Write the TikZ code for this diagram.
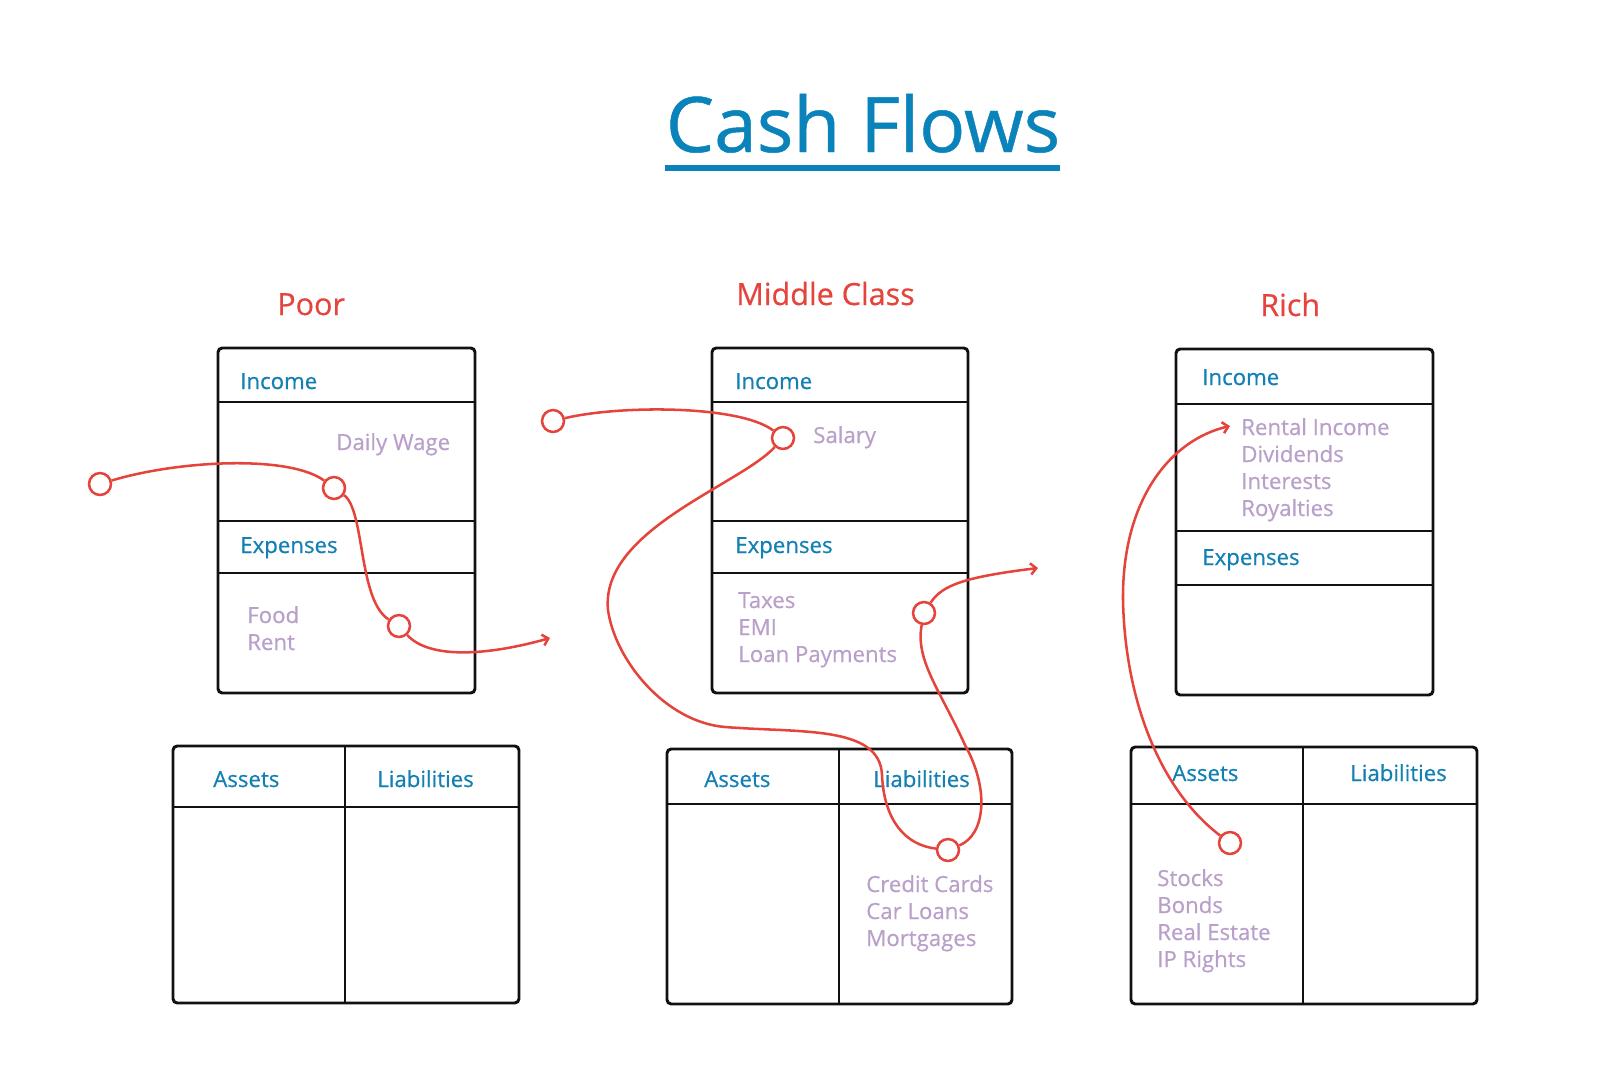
\documentclass[tikz,border=0pt]{standalone}
\usepackage{fontspec}
\setmainfont{Open Sans}[UprightFeatures={FakeBold=0.6}]
\usetikzlibrary{arrows.meta}
\definecolor{ink}{HTML}{111111}
\definecolor{titleblue}{HTML}{0A82BA}
\definecolor{headblue}{HTML}{1380B3}
\definecolor{flowred}{HTML}{E5443C}
\definecolor{lilac}{HTML}{B9A0CB}
\tikzset{
  >={Straight Barb[length=4pt, width=8pt]},
  %
  sheet/.style={draw=ink, line width=2.1pt, rounded corners=3pt},
  rule/.style={draw=ink, line width=2.1pt},
  %
  sect/.style={font=\fontsize{15.8}{19}\selectfont, text=headblue,
               anchor=base west, inner sep=0pt},
  entry/.style={sect, text=lilac},
  klass/.style={font=\fontsize{21.7}{26}\selectfont, text=flowred,
                anchor=base west, inner sep=0pt},
  %
  hop/.style={circle, draw=flowred, line width=1.8pt, fill=white,
              minimum size=15.6pt, inner sep=0pt},
  flow/.style={draw=flowred, line width=1.8pt},
  flowto/.style={flow, ->},
}

\newcommand{\statement}[7]{% left, right, top, income rule, expenses top, expenses rule, bottom
  \draw[sheet] (#1,#3) rectangle (#2,#7);
  \draw[rule] (#1,#4) -- (#2,#4);
  \draw[rule] (#1,#5) -- (#2,#5);
  \draw[rule] (#1,#6) -- (#2,#6);
}
\newcommand{\balance}[6]{% left, divider, right, top, header rule, bottom
  \draw[sheet] (#1,#4) rectangle (#3,#6);
  \draw[rule] (#2,#4) -- (#2,#6);
  \draw[rule] (#1,#5) -- (#3,#5);
}
\newcommand{\entries}[4]{% name, x, first baseline, items
  \foreach \t [count=\i] in {#4}
    \node[entry] (#1-\i) at (#2,{#3+27*(\i-1)}) {\t};
}

\begin{document}
\begin{tikzpicture}[x=0.025cm, y=-0.025cm]
  \useasboundingbox (0,0) rectangle (1600,1073);

  % --- title ---------------------------------------------------------------
  \node[font=\fontsize{54.5}{60}\selectfont, text=titleblue, anchor=base,
        inner sep=0pt] (title) at (863,152) {Cash Flows};
  \draw[titleblue, line width=3.6pt] (665,168) -- (1060,168);

  % --- poor ----------------------------------------------------------------
  \node[klass] (poor) at (277,315) {Poor};
  \statement{218}{475}{348}{402}{521}{573}{693}
  \node[sect] (poor-inc) at (240,389) {Income};
  \node[sect] (poor-exp) at (240,553) {Expenses};
  \entries{poor-wage}{336}{450}{Daily Wage}
  \entries{poor-cost}{247}{623}{Food,Rent}
  \balance{173}{345}{519}{746}{807}{1003}
  \node[sect] (poor-ast) at (213,787) {Assets};
  \node[sect] (poor-lia) at (377,787) {Liabilities};

  % --- middle class --------------------------------------------------------
  \node[klass] (middle) at (736,305) {Middle Class};
  \statement{712}{968}{348}{402}{521}{573}{693}
  \node[sect] (mid-inc) at (735,389) {Income};
  \node[sect] (mid-exp) at (735,553) {Expenses};
  \entries{mid-pay}{813}{443}{Salary}
  \entries{mid-cost}{738}{608}{Taxes,EMI,Loan Payments}
  \balance{667}{839}{1012}{749}{804}{1004}
  \node[sect] (mid-ast) at (704,787) {Assets};
  \node[sect] (mid-lia) at (873,787) {Liabilities};
  \entries{mid-debt}{866}{892}{Credit Cards,Car Loans,Mortgages}

  % --- rich ----------------------------------------------------------------
  \node[klass] (rich) at (1260,316) {Rich};
  \statement{1176}{1433}{349}{404}{531}{585}{695}
  \node[sect] (rich-inc) at (1202,385) {Income};
  \node[sect] (rich-exp) at (1202,565) {Expenses};
  \entries{rich-yield}{1241}{435}{Rental Income,Dividends,Interests,Royalties}
  \balance{1131}{1303}{1477}{747}{804}{1004}
  \node[sect] (rich-ast) at (1172,781) {Assets};
  \node[sect] (rich-lia) at (1350,781) {Liabilities};
  \entries{rich-own}{1157}{886}{Stocks,Bonds,Real Estate,IP Rights}

  % --- flows ---------------------------------------------------------------
  \node[hop] (p1) at (100,484) {};
  \node[hop] (p2) at (334,488) {};
  \node[hop] (p3) at (399,626) {};
  \coordinate (pout) at (550,638);
  \draw[flow] (p1) .. controls (180,460) and (290,455) .. (p2);
  \draw[flow] (p2) .. controls (365,510) and (358,600) .. (p3);
  \draw[flowto] (p3) .. controls (430,660) and (490,655) .. (pout);

  \node[hop] (m1) at (553,421) {};
  \node[hop] (m2) at (783,438) {};
  \node[hop] (m3) at (948,850) {};
  \node[hop] (m4) at (924,613) {};
  \coordinate (mout) at (1038,568);
  \draw[flow] (m1) .. controls (620,405) and (740,405) .. (m2);
  \draw[flow] (m2) .. controls (740,485) and (600,530) .. (608,610)
    .. controls (615,660) and (665,722) .. (725,727)
    .. controls (800,733) and (880,725) .. (882,775)
    .. controls (884,820) and (905,845) .. (m3);
  \draw[flow] (m3) .. controls (985,835) and (990,790) .. (965,745)
    .. controls (940,690) and (915,660) .. (m4);
  \draw[flowto] (m4) .. controls (942,585) and (965,577) .. (mout);

  \node[hop] (r1) at (1230,843) {};
  \coordinate (rin) at (1230,426);
  \draw[flowto] (r1) .. controls (1160,790) and (1125,700) .. (1123,600)
    .. controls (1122,500) and (1170,440) .. (rin);

\end{tikzpicture}
\end{document}
